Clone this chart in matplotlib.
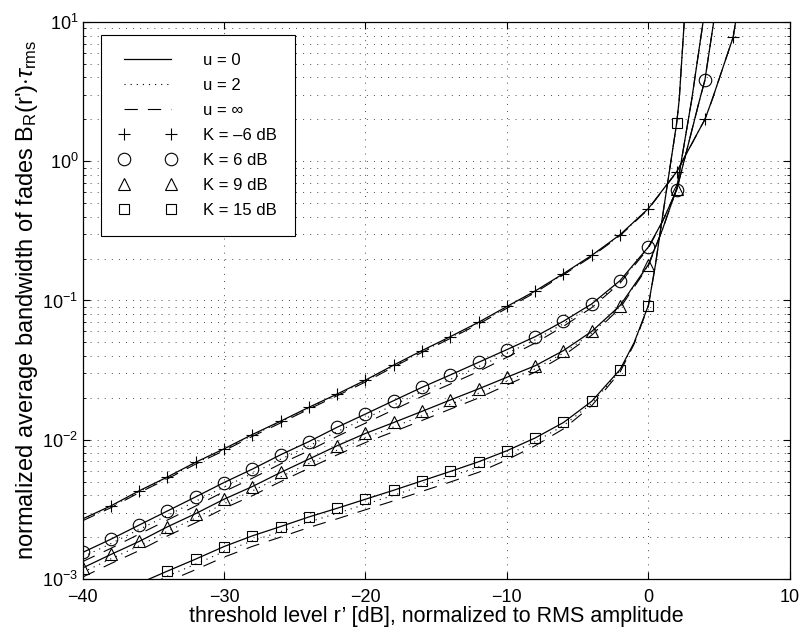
import numpy as np
import matplotlib
matplotlib.use('Agg')
import matplotlib.pyplot as plt
from matplotlib.lines import Line2D
from matplotlib.ticker import LogLocator, NullFormatter, MultipleLocator

plt.rcParams['font.family'] = ['Liberation Sans', 'DejaVu Sans']
plt.rcParams['mathtext.fontset'] = 'custom'
plt.rcParams['mathtext.rm'] = 'Liberation Sans'
plt.rcParams['mathtext.it'] = 'Liberation Sans:italic'
plt.rcParams['mathtext.bf'] = 'Liberation Sans:bold'

# threshold level r' [dB] and B_R(r')*tau_rms for u = 0, u = 2, u = inf
x_k_m6 = [-40, -38, -36, -34, -32, -30, -28, -26, -24, -22, -20, -18, -16, -14,
          -12, -10, -8, -6, -4, -2, 0, 2, 4, 4.5, 6, 6.2]
k_m6_u0 = [2.7e-3, 3.35e-3, 4.3e-3, 5.4e-3, 6.9e-3, 8.6e-3, 1.09e-2, 1.36e-2,
           1.71e-2, 2.13e-2, 2.68e-2, 3.44e-2, 4.37e-2, 5.5e-2, 6.98e-2, 9.06e-2,
           0.117, 0.156, 0.211, 0.297, 0.457, 0.84, 2.0, 2.75, 7.8, 10.5]
k_m6_u2 = [2.66e-3, 3.30e-3, 4.24e-3, 5.32e-3, 6.80e-3, 8.47e-3, 1.074e-2, 1.34e-2,
           1.684e-2, 2.098e-2, 2.64e-2, 3.39e-2, 4.30e-2, 5.42e-2, 6.88e-2, 8.92e-2,
           0.116, 0.154, 0.209, 0.294, 0.455, 0.84, 2.0, 2.75, 7.8, 10.5]
k_m6_uinf = [2.62e-3, 3.25e-3, 4.17e-3, 5.24e-3, 6.69e-3, 8.34e-3, 1.057e-2, 1.32e-2,
             1.66e-2, 2.07e-2, 2.60e-2, 3.34e-2, 4.24e-2, 5.34e-2, 6.77e-2, 8.8e-2,
             0.114, 0.153, 0.207, 0.292, 0.452, 0.835, 2.0, 2.75, 7.8, 10.5]
mark_k_m6 = [-38, -36, -34, -32, -30, -28, -26, -24, -22, -20, -18, -16, -14, -12,
             -10, -8, -6, -4, -2, 0, 2, 4, 6]

x_k6 = [-40, -38, -36, -34, -32, -30, -28, -26, -24, -22, -20, -18, -16, -14,
        -12, -10, -8, -6, -4, -2, 0, 1, 2, 3.62, 4, 4.65]
k6_u0 = [1.55e-3, 1.93e-3, 2.44e-3, 3.08e-3, 3.89e-3, 4.93e-3, 6.15e-3, 7.8e-3,
         9.7e-3, 1.23e-2, 1.53e-2, 1.91e-2, 2.38e-2, 2.92e-2, 3.6e-2, 4.44e-2,
         5.5e-2, 7.1e-2, 9.46e-2, 0.139, 0.242, 0.37, 0.62, 2.75, 3.83, 10.5]
k6_u2 = [1.44e-3, 1.795e-3, 2.27e-3, 2.86e-3, 3.62e-3, 4.58e-3, 5.72e-3, 7.25e-3,
         9.02e-3, 1.144e-2, 1.423e-2, 1.776e-2, 2.213e-2, 2.716e-2, 3.35e-2, 4.17e-2,
         5.22e-2, 6.82e-2, 9.18e-2, 0.136, 0.240, 0.37, 0.62, 2.75, 3.83, 10.5]
k6_uinf = [1.333e-3, 1.66e-3, 2.10e-3, 2.65e-3, 3.345e-3, 4.24e-3, 5.29e-3, 6.71e-3,
           8.34e-3, 1.058e-2, 1.316e-2, 1.643e-2, 2.047e-2, 2.511e-2, 3.096e-2, 3.907e-2,
           4.95e-2, 6.53e-2, 8.89e-2, 0.1334, 0.237, 0.37, 0.62, 2.75, 3.83, 10.5]
mark_k6 = [-40, -38, -36, -34, -32, -30, -28, -26, -24, -22, -20, -18, -16, -14,
           -12, -10, -8, -6, -4, -2, 0, 2, 4]

x_k9 = [-40, -38, -36, -34, -32, -30, -28, -26, -24, -22, -20, -18, -16, -14,
        -12, -10, -8, -6, -4, -2, 0, 1, 2, 3.06, 3.9]
k9_u0 = [1.2e-3, 1.50e-3, 1.86e-3, 2.37e-3, 2.95e-3, 3.74e-3, 4.61e-3, 5.82e-3,
         7.26e-3, 9.06e-3, 1.11e-2, 1.33e-2, 1.60e-2, 1.93e-2, 2.32e-2, 2.81e-2,
         3.40e-2, 4.37e-2, 6.0e-2, 9.2e-2, 0.181, 0.324, 0.635, 2.75, 10.5]
k9_u2 = [1.116e-3, 1.395e-3, 1.73e-3, 2.204e-3, 2.744e-3, 3.478e-3, 4.287e-3, 5.413e-3,
         6.752e-3, 8.426e-3, 1.032e-2, 1.237e-2, 1.488e-2, 1.795e-2, 2.158e-2, 2.641e-2,
         3.23e-2, 4.195e-2, 5.82e-2, 9.02e-2, 0.179, 0.324, 0.635, 2.75, 10.5]
k9_uinf = [1.032e-3, 1.29e-3, 1.60e-3, 2.038e-3, 2.537e-3, 3.216e-3, 3.965e-3, 5.005e-3,
           6.244e-3, 7.792e-3, 9.546e-3, 1.144e-2, 1.376e-2, 1.66e-2, 1.995e-2, 2.473e-2,
           3.06e-2, 4.02e-2, 5.64e-2, 8.83e-2, 0.177, 0.324, 0.635, 2.75, 10.5]
mark_k9 = [-40, -38, -36, -34, -32, -30, -28, -26, -24, -22, -20, -18, -16, -14,
           -12, -10, -8, -6, -4, -2, 0, 2]

x_k15 = [-36, -34, -32, -30, -28, -26, -24, -22, -20, -18, -16, -14, -12, -10,
         -8, -6, -4, -2, -1, 0, 0.5, 1, 2, 2.18, 2.55]
k15_u0 = [0.93e-3, 1.14e-3, 1.39e-3, 1.71e-3, 2.04e-3, 2.38e-3, 2.79e-3, 3.22e-3,
          3.74e-3, 4.34e-3, 5.07e-3, 5.92e-3, 6.95e-3, 8.34e-3, 1.03e-2, 1.33e-2,
          1.89e-2, 3.19e-2, 0.05, 0.092, 0.18, 0.40, 1.87, 2.75, 10.5]
k15_u2 = [0.856e-3, 1.049e-3, 1.279e-3, 1.573e-3, 1.877e-3, 2.19e-3, 2.567e-3, 2.962e-3,
          3.441e-3, 3.993e-3, 4.664e-3, 5.446e-3, 6.394e-3, 7.756e-3, 9.68e-3, 1.264e-2,
          1.824e-2, 3.126e-2, 0.0495, 0.0915, 0.18, 0.40, 1.87, 2.75, 10.5]
k15_uinf = [0.781e-3, 0.958e-3, 1.168e-3, 1.436e-3, 1.714e-3, 1.999e-3, 2.344e-3, 2.705e-3,
            3.142e-3, 3.646e-3, 4.259e-3, 4.973e-3, 5.838e-3, 7.172e-3, 9.064e-3, 1.197e-2,
            1.758e-2, 3.062e-2, 0.0488, 0.0911, 0.18, 0.40, 1.87, 2.75, 10.5]
mark_k15 = [-34, -32, -30, -28, -26, -24, -22, -20, -18, -16, -14, -12, -10, -8,
            -6, -4, -2, 0, 2]

curves = [
    (x_k_m6, k_m6_u0, k_m6_u2, k_m6_uinf, mark_k_m6, '+', 8),
    (x_k6, k6_u0, k6_u2, k6_uinf, mark_k6, 'o', 9),
    (x_k9, k9_u0, k9_u2, k9_uinf, mark_k9, '^', 9),
    (x_k15, k15_u0, k15_u2, k15_uinf, mark_k15, 's', 7),
]
labels_k = ['K = \u20136 dB', 'K = 6 dB', 'K = 9 dB', 'K = 15 dB']

fig = plt.figure(figsize=(8.05, 6.38), dpi=100)
ax = fig.add_axes([0.1026, 0.0925, 0.8785, 0.873])

dot_style = (0, (1, 4.5))
dash_style = (0, (12, 9))
for xs, y0, y2, yinf, mx, mk, ms in curves:
    xs = np.array(xs)
    y0 = np.array(y0)
    ax.plot(xs, y0, color='k', lw=0.9, ls='-')
    ax.plot(xs, y2, color='k', lw=0.8, ls=dot_style)
    ax.plot(xs, yinf, color='k', lw=0.8, ls=dash_style)
    sel = np.isin(xs, mx)
    ax.plot(xs[sel], y0[sel], ls='none', marker=mk, ms=ms, mfc='none',
            mec='k', mew=0.8)

ax.set_yscale('log')
ax.set_xlim(-40, 10)
ax.set_ylim(1e-3, 1e1)
ax.xaxis.set_major_locator(MultipleLocator(10))
ax.yaxis.set_major_locator(LogLocator(base=10, numticks=10))
ax.yaxis.set_minor_locator(LogLocator(base=10, subs=np.arange(2, 10), numticks=20))
ax.yaxis.set_minor_formatter(NullFormatter())

grid_kw = dict(color='0.2', lw=0.6, ls=(0, (1.2, 7.3)))
ax.grid(True, which='major', axis='both', **grid_kw)
ax.grid(True, which='minor', axis='y', **grid_kw)
ax.tick_params(which='both', direction='in', top=True, right=True, labelsize=13)
ax.tick_params(which='major', length=5, width=0.8)
ax.tick_params(which='minor', length=2.5, width=0.6)
ax.tick_params(axis='x', pad=7)
ax.tick_params(axis='y', pad=3)
for s in ax.spines.values():
    s.set_linewidth(0.9)

ax.set_xlabel('threshold level r\u2019 [dB], normalized to RMS amplitude',
              fontsize=15.5, labelpad=0)
ax.set_ylabel('normalized average bandwidth of fades B$_\\mathrm{R}$(r\')$\\cdot\\tau_\\mathrm{rms}$',
              fontsize=17, labelpad=2)

handles = [
    Line2D([], [], color='k', lw=0.9, ls='-'),
    Line2D([], [], color='k', lw=0.8, ls=dot_style),
    Line2D([], [], color='k', lw=0.8, ls=dash_style),
]
for _, _, _, _, _, mk, ms in curves:
    handles.append(Line2D([], [], ls='none', marker=mk, ms=ms, mfc='none',
                          mec='k', mew=0.8))
labels = ['u = 0', 'u = 2', 'u = \u221e'] + labels_k
leg = ax.legend(handles, labels, loc='upper left', bbox_to_anchor=(0.026, 0.977),
                borderaxespad=0, fontsize=12, numpoints=2, handlelength=3.4,
                handletextpad=1.6, labelspacing=0.6, borderpad=1.1,
                fancybox=False, framealpha=1, edgecolor='k')
leg.get_frame().set_linewidth(0.8)

fig.savefig('out.png', dpi=100)
